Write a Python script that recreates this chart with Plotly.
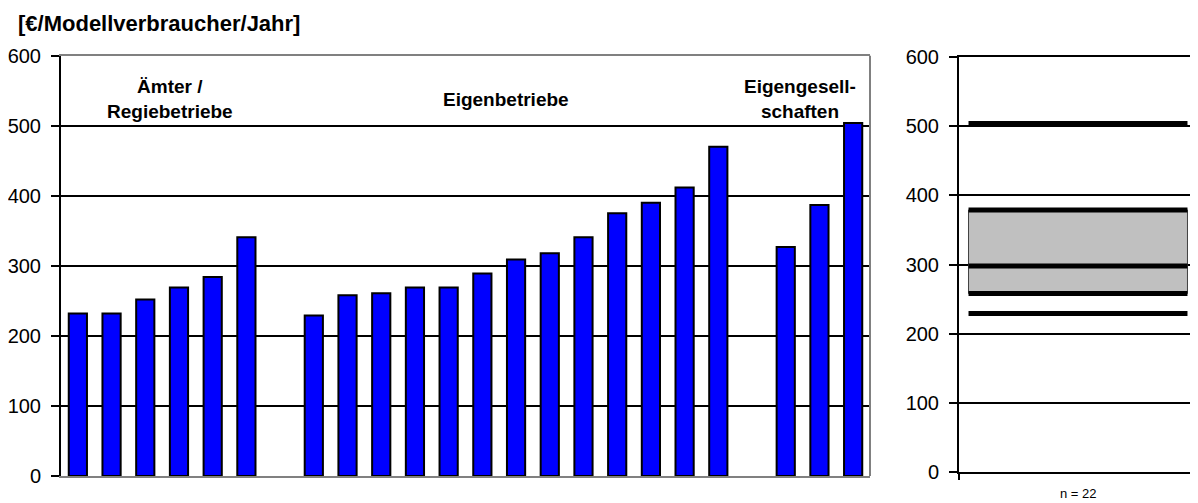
import plotly.graph_objects as go

# ---- data ----
title_text = "[€/Modellverbraucher/Jahr]"
group_names = ["Ämter /<br>Regiebetriebe", "Eigenbetriebe", "Eigengesell-<br>schaften"]
aemter = [232, 232, 252, 269, 284, 341]
eigenbetriebe = [229, 258, 261, 269, 269, 289, 309, 318, 341, 375, 390, 412, 470]
eigengesellschaften = [327, 387, 504]
box_stats = [229, 258, 298, 379, 504]   # min, Q1, median, Q3, max
n_label = "n = 22"
y_ticks = [0, 100, 200, 300, 400, 500, 600]

groups = [aemter, eigenbetriebe, eigengesellschaften]

# positions: one empty slot between groups
xs, ys, centers = [], [], []
pos = 0
for g in groups:
    start = pos
    for v in g:
        xs.append(pos)
        ys.append(v)
        pos += 1
    centers.append((start + pos - 1) / 2)
    pos += 1
last_x = xs[-1]

# page body has an 8px margin -> figure is placed at (8, 8)
W, H = 1190, 495

FONT = "Liberation Sans, Arial, sans-serif"
fig = go.Figure()

fig.add_trace(go.Bar(
    x=xs, y=ys, width=0.54,
    marker=dict(color="#0000FF", line=dict(color="black", width=2)),
    xaxis="x", yaxis="y", showlegend=False, hoverinfo="y",
))

# right panel: box summary drawn as lines
mn, q1, med, q3, mx = box_stats
fig.add_trace(go.Scatter(
    x=[0.04, 0.96, 0.96, 0.04, 0.04], y=[q1, q1, q3, q3, q1],
    fill="toself", fillcolor="#C0C0C0", mode="lines",
    line=dict(color="#404040", width=1),
    xaxis="x2", yaxis="y2", showlegend=False, hoverinfo="skip",
))
for v in box_stats:
    fig.add_trace(go.Scatter(
        x=[0.04, 0.96], y=[v, v], mode="lines",
        line=dict(color="black", width=5),
        xaxis="x2", yaxis="y2", showlegend=False, hoverinfo="y",
    ))

tickfont = dict(family=FONT, size=20, color="black")

fig.update_layout(
    width=W, height=H,
    margin=dict(l=0, r=0, t=0, b=0, autoexpand=False),
    paper_bgcolor="white", plot_bgcolor="white",
    barmode="overlay",
    xaxis=dict(domain=[53 / W, 862 / W], range=[-0.5, last_x + 0.5],
               showticklabels=False, ticks="", showgrid=False, zeroline=False,
               showline=True, linecolor="#808080", linewidth=2, mirror=True,
               automargin=False),
    yaxis=dict(domain=[1 - 468 / H, 1 - 47.7 / H], range=[0, 600], tickvals=y_ticks,
               showgrid=True, gridcolor="black", gridwidth=2, zeroline=False,
               showline=True, linecolor="black", linewidth=2,
               ticks="outside", ticklen=8, tickwidth=2, tickcolor="black",
               tickfont=tickfont, ticklabelstandoff=6, automargin=False),
    xaxis2=dict(domain=[951 / W, 1189 / W], range=[0, 1], anchor="y2",
                tickvals=[0, 1], showticklabels=False, ticks="outside", ticklen=6,
                tickwidth=2, tickcolor="black", showgrid=False, zeroline=False,
                showline=True, linecolor="black", linewidth=2, mirror=True,
                automargin=False),
    yaxis2=dict(domain=[1 - 463.7 / H, 1 - 49.3 / H], range=[0, 600], tickvals=y_ticks,
                anchor="x2",
                showgrid=True, gridcolor="black", gridwidth=2, zeroline=False,
                showline=True, linecolor="black", linewidth=2, mirror=True,
                ticks="outside", ticklen=8, tickwidth=2, tickcolor="black",
                tickfont=tickfont, ticklabelstandoff=6, automargin=False),
)

# gray right edge of left panel
fig.add_shape(type="line", xref="x domain", yref="y domain", x0=1, x1=1, y0=0, y1=1,
              line=dict(color="#808080", width=2))

annotations = [
    dict(text="<b>" + title_text + "</b>", xref="paper", yref="paper",
         x=8 / W, y=1 - 15.5 / H, xanchor="left", yanchor="middle",
         showarrow=False, font=dict(family=FONT, size=22, color="black")),
    dict(text=n_label, xref="x2", yref="paper", x=0.5, y=1 - 485.5 / H,
         xanchor="center", yanchor="middle", showarrow=False,
         font=dict(family=FONT, size=13, color="black")),
]
label_offsets = [0.23, -0.3, -0.58]
for name, c, off in zip(group_names, centers, label_offsets):
    annotations.append(dict(
        text="<b>" + name + "</b>", xref="x", yref="y", x=c + off, y=538,
        xanchor="center", yanchor="middle", showarrow=False,
        font=dict(family=FONT, size=19, color="black")))
fig.update_layout(annotations=annotations)

fig.write_html("out.html")
